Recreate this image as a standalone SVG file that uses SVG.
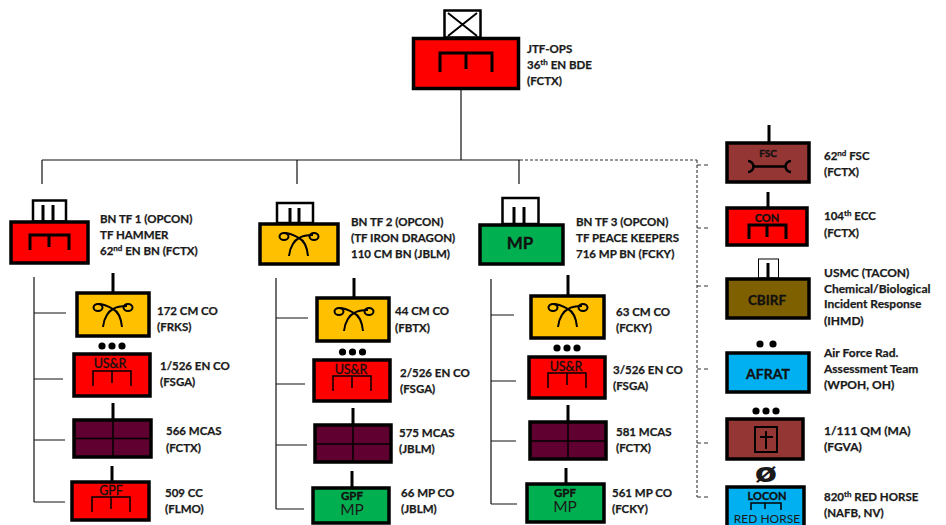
<svg xmlns="http://www.w3.org/2000/svg" width="946" height="525" viewBox="0 0 946 525">
<style>
text{font-family:"Lato","Carlito","Liberation Sans",sans-serif;fill:#1a1a1a}
.l{font-size:11.5px;font-weight:700;stroke:#1a1a1a;stroke-width:.25}
.w{font-size:12px}
.s{font-size:8px;font-weight:700}
.c{text-anchor:middle;fill:#111;stroke:#111;stroke-width:.35}
.b{stroke:#000;stroke-width:3.5}
.r{fill:#f00}.y{fill:#ffc000}.m{fill:#5f0030}.g{fill:#00b050}.br{fill:#943634}.o{fill:#7f6000}.u{fill:#00b0f0}
.t{fill:#fff;stroke:#000;stroke-width:2.5}
.e{stroke:#000;stroke-width:3;fill:none}
.th{stroke:#000;stroke-width:1.5;fill:none}
.co{stroke:#111;stroke-width:1.2;fill:none}
.da{stroke:#333;stroke-width:1.1;fill:none;stroke-dasharray:3 2}
.st{stroke:#333;stroke-width:1.1;fill:none;stroke-dasharray:4 3}
</style>
<defs>
<g id="chem" fill="none" stroke="#000" stroke-width="2">
<path d="M-10 24C-9 14-4 8 0 6C5 3 9 3 14 3"/>
<path d="M9 24C8 14 4 8 0 6C-5 3-9 1-15 1"/>
<ellipse cx="-15" cy="4.500" rx="4.500" ry="3.500"/>
<ellipse cx="15" cy="4.500" rx="4.500" ry="3.500"/>
</g>
<path id="brk" d="M-19 15V0H19V15M0 0V12" class="th"/>
<path id="brkb" d="M-26 19V0H26V19M0 0V16" class="e"/>
<g id="d3" fill="#000"><circle cx="-10" r="3.600"/><circle r="3.600"/><circle cx="10" r="3.600"/></g>
</defs>

<g id="connectors">
<path class="co" d="M461 89V160M42 160H520M42 160V184M297 160V184M519 160V184"/>
<path class="da" d="M520 160H697M697 160V497"/>
<path class="st" d="M697 165H711M697 228H710M697 286H710M697 369H708M697 443H709M697 497H708"/>
<path class="co" d="M34 277V502M34 313H66M34 379H63M34 440H65M34 502H65"/>
<path class="co" d="M276 278V509M276 318H308M276 384H305M276 445H307M276 509H304"/>
<path class="co" d="M491 279V504M491 315H514M491 381H516M491 441H516M491 504H517"/>
</g>

<g id="jtf">
<rect class="t" x="444.500" y="10.500" width="36" height="27"/>
<path class="th" d="M448 13L477 36M477 13L448 36" style="stroke-width:2"/>
<rect class="r b" x="413.500" y="38.500" width="105" height="50"/>
<use href="#brkb" x="466" y="53"/>
<text class="l" x="527" y="53">JTF-OPS</text>
<text class="l" x="527" y="69">36<tspan class="s" dy="-4">th</tspan><tspan dy="4"> EN BDE</tspan></text>
<text class="l" x="527" y="85">(FCTX)</text>
</g>

<g id="bn1">
<rect class="t" x="33" y="200.500" width="33" height="21"/>
<path class="e" d="M43 205V221M53 205V221"/>
<rect class="r b" x="11" y="222" width="77" height="41"/>
<path class="e" d="M30 250V235H69V250M49 235V247"/>
<text class="l" x="100" y="223">BN TF 1 (OPCON)</text>
<text class="l" x="100" y="239">TF HAMMER</text>
<text class="l" x="100" y="255">62<tspan class="s" dy="-4">nd</tspan><tspan dy="4"> EN BN (FCTX)</tspan></text>
</g>
<g id="cm172">
<path class="e" d="M113 273V292"/>
<rect class="y b" x="77" y="293" width="72" height="43"/>
<use href="#chem" x="113" y="303"/>
<use href="#d3" x="112" y="346"/>
<text class="l" x="157" y="315">172 CM CO</text>
<text class="l" x="157" y="331">(FRKS)</text>
</g>
<g id="usr1">
<rect class="r b" x="74" y="354" width="76" height="42"/>
<text class="c" x="110" y="368" font-size="12.500">US&amp;R</text>
<use href="#brk" x="112" y="371"/>
<text class="l" x="160" y="370">1/526 EN CO</text>
<text class="l" x="160" y="386">(FSGA)</text>
</g>
<g id="mcas566">
<path class="e" d="M113 403V419"/>
<rect class="m b" x="74" y="420" width="77" height="37"/>
<path class="th" d="M113 420V457M74 438.500H151"/>
<text class="l" x="166" y="435">566 MCAS</text>
<text class="l" x="166" y="452">(FCTX)</text>
</g>
<g id="cc509">
<path class="e" d="M112 466V481"/>
<rect class="r b" x="72" y="482" width="77" height="38"/>
<text class="c" x="111" y="495" font-size="12.500">GPF</text>
<use href="#brk" x="111" y="497"/>
<text class="l" x="165" y="497">509 CC</text>
<text class="l" x="165" y="513">(FLMO)</text>
</g>

<g id="bn2">
<rect class="t" x="277" y="203" width="36" height="20"/>
<path class="e" d="M290 208V223M299 208V223"/>
<rect class="y b" x="260" y="224" width="78" height="40"/>
<use href="#chem" x="299" y="232"/>
<text class="l" x="351" y="226">BN TF 2 (OPCON)</text>
<text class="l" x="351" y="242">(TF IRON DRAGON)</text>
<text class="l" x="351" y="258">110 CM BN (JBLM)</text>
</g>
<g id="cm44">
<path class="e" d="M354 278V297"/>
<rect class="y b" x="317" y="298" width="72" height="43"/>
<use href="#chem" x="354" y="307"/>
<use href="#d3" x="352.500" y="352"/>
<text class="l" x="395" y="315">44 CM CO</text>
<text class="l" x="395" y="332">(FBTX)</text>
</g>
<g id="usr2">
<rect class="r b" x="314" y="360" width="76" height="41"/>
<text class="c" x="351" y="374" font-size="12.500">US&amp;R</text>
<use href="#brk" x="352" y="376"/>
<text class="l" x="400" y="377">2/526 EN CO</text>
<text class="l" x="400" y="393">(FSGA)</text>
</g>
<g id="mcas575">
<path class="e" d="M353 408V424"/>
<rect class="m b" x="315" y="425" width="76" height="37"/>
<path class="th" d="M353 425V462M315 444H391"/>
<text class="l" x="399" y="437">575 MCAS</text>
<text class="l" x="399" y="453">(JBLM)</text>
</g>
<g id="mp66">
<path class="e" d="M352 471V487"/>
<rect class="g b" x="313" y="488" width="76" height="35"/>
<text class="c" x="352" y="500" font-size="11.500" font-weight="700">GPF</text>
<text x="352" y="515" font-size="15.500" text-anchor="middle" fill="#111">MP</text>
<text class="l" x="401" y="497">66 MP CO</text>
<text class="l" x="401" y="513">(JBLM)</text>
</g>

<g id="bn3">
<rect class="t" x="502.500" y="198" width="36" height="26"/>
<path class="e" d="M514 207V224M524 207V224"/>
<rect class="g b" x="480" y="225" width="83" height="39"/>
<text class="c" x="520" y="249" font-size="17" font-weight="700">MP</text>
<text class="l" x="576" y="226">BN TF 3 (OPCON)</text>
<text class="l" x="576" y="242">TF PEACE KEEPERS</text>
<text class="l" x="576" y="258">716 MP BN (FCKY)</text>
</g>
<g id="cm63">
<path class="e" d="M568 275V295"/>
<rect class="y b" x="531" y="296" width="73" height="42"/>
<use href="#chem" x="568" y="303"/>
<use href="#d3" x="567" y="348"/>
<text class="l" x="616" y="316">63 CM CO</text>
<text class="l" x="616" y="332">(FCKY)</text>
</g>
<g id="usr3">
<rect class="r b" x="529" y="357" width="76" height="41"/>
<text class="c" x="566" y="371" font-size="12.500">US&amp;R</text>
<use href="#brk" x="567" y="373"/>
<text class="l" x="613" y="374">3/526 EN CO</text>
<text class="l" x="613" y="390">(FSGA)</text>
</g>
<g id="mcas581">
<path class="e" d="M568 405V421"/>
<rect class="m b" x="530" y="422" width="76" height="37"/>
<path class="th" d="M568 422V459M530 441H606"/>
<text class="l" x="616" y="436">581 MCAS</text>
<text class="l" x="616" y="452">(FCTX)</text>
</g>
<g id="mp561">
<path class="e" d="M566 468V483"/>
<rect class="g b" x="527" y="484" width="77" height="38"/>
<text class="c" x="565" y="497" font-size="11.500" font-weight="700">GPF</text>
<text x="565" y="512" font-size="15.500" text-anchor="middle" fill="#111">MP</text>
<text class="l" x="612" y="497">561 MP CO</text>
<text class="l" x="612" y="513">(FCKY)</text>
</g>

<g id="fsc">
<path class="e" d="M769 125V142"/>
<rect class="br b" x="727" y="143" width="82" height="39"/>
<text class="c" x="768" y="157" font-size="10" font-weight="700">FSC</text>
<path class="e" d="M748 161A5.500 5.500 0 0 1 748 172M753 166.500H786M791 161A5.500 5.500 0 0 0 791 172" style="stroke-width:2.500"/>
<text class="l" x="824" y="160">62<tspan class="s" dy="-4">nd</tspan><tspan dy="4"> FSC</tspan></text>
<text class="l" x="824" y="176">(FCTX)</text>
</g>
<g id="con">
<path class="e" d="M768 192V207"/>
<rect class="r b" x="727" y="208" width="80" height="37"/>
<text class="c" x="767" y="222" font-size="11" font-weight="700">CON</text>
<path class="e" d="M749 239V225H786V239M767 225V237"/>
<text class="l" x="824" y="220">104<tspan class="s" dy="-4">th</tspan><tspan dy="4"> ECC</tspan></text>
<text class="l" x="824" y="237">(FCTX)</text>
</g>
<g id="cbirf">
<rect x="758.500" y="259" width="20" height="19" fill="#fff" stroke="#000" stroke-width="1"/>
<path class="e" d="M768 263V278"/>
<rect class="o b" x="727" y="279" width="82" height="39"/>
<text class="c" x="767" y="305" font-size="13.500" font-weight="700">CBIRF</text>
<text class="l w" x="824" y="277">USMC (TACON)</text>
<text class="l w" x="824" y="293">Chemical/Biological</text>
<text class="l w" x="824" y="308">Incident Response</text>
<text class="l w" x="824" y="325">(IHMD)</text>
</g>
<g id="afrat">
<circle cx="760" cy="344" r="3.600"/><circle cx="773" cy="344" r="3.600"/>
<rect class="u b" x="727" y="353" width="82" height="39"/>
<text class="c" x="768" y="379" font-size="14" font-weight="700">AFRAT</text>
<text class="l w" x="824" y="357">Air Force Rad.</text>
<text class="l w" x="824" y="373">Assessment Team</text>
<text class="l w" x="824" y="389">(WPOH, OH)</text>
</g>
<g id="qm">
<use href="#d3" x="766" y="411"/>
<rect class="br b" x="727" y="419" width="76" height="40"/>
<rect x="755" y="427" width="22" height="25" fill="none" stroke="#000" stroke-width="2"/>
<path class="th" d="M766 431V449M760 437H773" style="stroke-width:2"/>
<text class="l w" x="824" y="435">1/111 QM (MA)</text>
<text class="l w" x="824" y="451">(FGVA)</text>
</g>
<g id="locon">
<text x="0" y="0" transform="translate(766 482) scale(1.250 1)" font-size="26" font-weight="700" text-anchor="middle" fill="#000" style="font-family:'DejaVu Sans',sans-serif">ø</text>
<rect class="u b" x="727" y="487" width="77" height="40"/>
<text class="c" x="767" y="500" font-size="11" font-weight="700">LOCON</text>
<path class="th" d="M751 510V503H781V510M765 503V509"/>
<text x="767" y="523" font-size="12" text-anchor="middle" fill="#111">RED HORSE</text>
<text class="l" x="824" y="501">820<tspan class="s" dy="-4">th</tspan><tspan dy="4"> RED HORSE</tspan></text>
<text class="l" x="824" y="517">(NAFB, NV)</text>
</g>
</svg>
